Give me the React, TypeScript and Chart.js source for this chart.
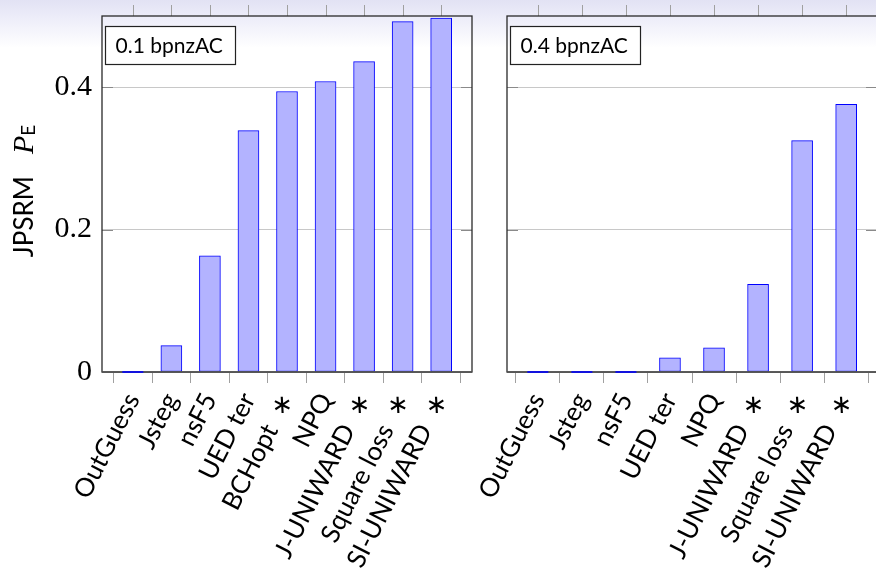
import React, { useEffect, useRef } from "react";
import { Chart, registerables } from "chart.js";

Chart.register(...registerables);

// ---- data ----
const categoriesLow = ["OutGuess", "Jsteg", "nsF5", "UED ter", "BCHopt *", "NPQ", "J-UNIWARD *", "Square loss *", "SI-UNIWARD *"];
const valuesLow = [0, 0.037, 0.163, 0.339, 0.394, 0.408, 0.436, 0.492, 0.497];
const categoriesHigh = ["OutGuess", "Jsteg", "nsF5", "UED ter", "NPQ", "J-UNIWARD *", "Square loss *", "SI-UNIWARD *"];
const valuesHigh = [0, 0, 0, 0.020, 0.034, 0.123, 0.325, 0.376];
const yTickValues = [0, 0.2, 0.4];
const panelTitles = ["0.1 bpnzAC", "0.4 bpnzAC"];
const yTitleMain = "JPSRM";
const yTitleSym = "P";
const yTitleSub = "E";

const SANS = 'Lato, "DejaVu Sans", sans-serif';
const SERIF = '"Liberation Serif", "DejaVu Serif", serif';

// math-style asterisk with wider spacing, as typeset in the original
const spaced = (s: string) => s.replace(" *", "\u2002\u2217");

const decorPlugin = {
  id: "decor",
  afterDraw(chart: any, _args: any, opts: any) {
    const ctx = chart.ctx;
    const area = chart.chartArea;
    const xs = chart.scales.x;
    const ys = chart.scales.y;
    ctx.save();
    // inner y ticks (left and right)
    ctx.strokeStyle = "#8a8a8a";
    ctx.lineWidth = 1;
    for (const v of yTickValues) {
      if (v === 0) continue;
      const py = Math.round(ys.getPixelForValue(v)) + 0.5;
      ctx.beginPath();
      ctx.moveTo(area.left, py);
      ctx.lineTo(area.left + 11, py);
      ctx.moveTo(area.right - 11, py);
      ctx.lineTo(area.right, py);
      ctx.stroke();
    }
    // top outward ticks
    ctx.strokeStyle = "#a0a0a0";
    for (let i = 0; i < opts.count; i++) {
      const px = Math.round(xs.getPixelForValue(i)) + 0.5;
      ctx.beginPath();
      ctx.moveTo(px, area.top - 11);
      ctx.lineTo(px, area.top);
      ctx.stroke();
    }
    // frame
    ctx.strokeStyle = "#2a2a2a";
    ctx.lineWidth = 1.3;
    ctx.strokeRect(area.left, area.top, area.right - area.left, area.bottom - area.top);
    // bottom axis line (gray)
    ctx.strokeStyle = "#555";
    ctx.beginPath();
    ctx.moveTo(area.left, area.bottom);
    ctx.lineTo(area.right, area.bottom);
    ctx.stroke();
    // redraw zero bars on top of the axis line
    const meta = chart.getDatasetMeta(0);
    const data = chart.data.datasets[0].data;
    meta.data.forEach((bar: any, i: number) => {
      if (data[i].y === 0) {
        ctx.strokeStyle = "#0000ff";
        ctx.lineWidth = 1.6;
        ctx.beginPath();
        ctx.moveTo(bar.x - bar.width / 2, area.bottom);
        ctx.lineTo(bar.x + bar.width / 2, area.bottom);
        ctx.stroke();
      }
    });
    // label box
    const bx = area.left + 3.5;
    const by = area.top + 10.5;
    const bw = 130;
    const bh = 38;
    ctx.fillStyle = "#ffffff";
    ctx.fillRect(bx, by, bw, bh);
    ctx.strokeStyle = "#222";
    ctx.lineWidth = 1.2;
    ctx.strokeRect(bx, by, bw, bh);
    ctx.fillStyle = "#000";
    ctx.font = "21px " + SANS;
    ctx.textBaseline = "middle";
    ctx.textAlign = "left";
    ctx.fillText(opts.title, bx + 10, by + bh / 2 + 1);
    // y title
    if (opts.yTitle) {
      ctx.translate(33, 191);
      ctx.rotate(-Math.PI / 2);
      const f1 = "26px " + SANS;
      const f2 = "italic 30px " + SERIF;
      const f3 = "19px " + SANS;
      ctx.textBaseline = "alphabetic";
      ctx.font = f1;
      const w1 = ctx.measureText(yTitleMain).width;
      ctx.font = f2;
      const w2 = ctx.measureText(yTitleSym).width;
      ctx.font = f3;
      const w3 = ctx.measureText(yTitleSub).width;
      const gap = 22;
      const total = w1 + gap + w2 + w3;
      let x = -total / 2;
      ctx.font = f1;
      ctx.fillText(yTitleMain, x, 0);
      x += w1 + gap;
      ctx.font = f2;
      ctx.fillText(yTitleSym, x, 0);
      x += w2;
      ctx.font = f3;
      ctx.fillText(yTitleSub, x, 2);
    }
    ctx.restore();
  },
};

function makeConfig(categories: string[], values: number[], opts: any): any {
  const n = categories.length;
  return {
    type: "bar",
    data: {
      datasets: [
        {
          data: values.map((v, i) => ({ x: i, y: v })),
          backgroundColor: "#b3b3ff",
          borderColor: "#0000ff",
          borderWidth: 1,
          borderSkipped: false,
          barThickness: 21,
        },
      ],
    },
    options: {
      animation: false,
      responsive: false,
      events: [],
      layout: { padding: opts.padding },
      plugins: {
        legend: { display: false },
        tooltip: { enabled: false },
        decor: { title: opts.title, yTitle: opts.yTitle, count: n },
      },
      scales: {
        x: {
          type: "linear",
          min: -opts.edge,
          max: n - 1 + opts.edge,
          offset: false,
          afterFit: (s: any) => {
            s.height = 198;
            s.paddingLeft = 0;
            s.paddingRight = 0;
          },
          border: { display: false },
          grid: {
            drawOnChartArea: false,
            drawTicks: true,
            tickLength: 11,
            tickColor: "#a0a0a0",
            color: "#a0a0a0",
          },
          ticks: {
            stepSize: 1,
            includeBounds: false,
            autoSkip: false,
            minRotation: 63,
            maxRotation: 63,
            padding: 5,
            color: "#000",
            font: { family: SANS, size: 26 },
            callback: (v: number) => (Number.isInteger(v) && v >= 0 && v < n ? spaced(categories[v]) : ""),
          },
        },
        y: {
          min: 0,
          max: 0.5,
          afterFit: (s: any) => {
            s.width = opts.yWidth;
            s.paddingTop = 0;
            s.paddingBottom = 0;
          },
          border: { display: false },
          grid: {
            color: "#c8c8c8",
            lineWidth: 1,
            drawTicks: false,
          },
          ticks: {
            display: opts.yLabels,
            stepSize: 0.2,
            includeBounds: false,
            padding: 10,
            color: "#000",
            font: { family: SERIF, size: 30 },
            callback: (v: number) => String(Math.round(v * 10) / 10),
          },
        },
      },
    },
    plugins: [decorPlugin],
  };
}

export default function App() {
  const leftRef = useRef<HTMLCanvasElement | null>(null);
  const rightRef = useRef<HTMLCanvasElement | null>(null);

  useEffect(() => {
    const c1 = new Chart(
      leftRef.current as HTMLCanvasElement,
      makeConfig(categoriesLow, valuesLow, {
        padding: { left: 0, right: 404, top: 16, bottom: 0 },
        yWidth: 102,
        yLabels: true,
        yTitle: true,
        title: panelTitles[0],
        edge: 0.8,
      })
    );
    const c2 = new Chart(
      rightRef.current as HTMLCanvasElement,
      makeConfig(categoriesHigh, valuesHigh, {
        padding: { left: 507, right: 3, top: 16, bottom: 0 },
        yWidth: 0,
        yLabels: false,
        yTitle: false,
        title: panelTitles[1],
        edge: 0.7,
      })
    );
    return () => {
      c1.destroy();
      c2.destroy();
    };
  }, []);

  return (
    <div
      style={{
        position: "fixed",
        left: 0,
        top: 0,
        width: 876,
        height: 570,
        overflow: "hidden",
        background: "linear-gradient(to bottom, #e2e2f4 0px, #ededf9 18px, #ffffff 48px)",
      }}
    >
      <canvas ref={leftRef} width={876} height={570} style={{ position: "absolute", left: 0, top: 0 }} />
      <canvas ref={rightRef} width={880} height={570} style={{ position: "absolute", left: 0, top: 0 }} />
    </div>
  );
}
